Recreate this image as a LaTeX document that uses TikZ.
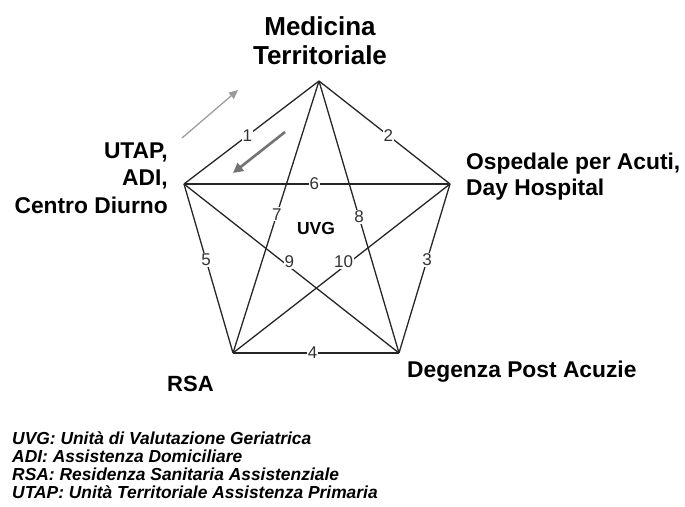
\documentclass[tikz,border=0pt]{standalone}
\usepackage{fontspec}
\setmainfont{Liberation Sans}
\usetikzlibrary{arrows.meta}
\begin{document}
\begin{tikzpicture}[x=1pt,y=-1pt,
  edge/.style={draw=black!85,line width=1.3pt},
  num/.style={fill=white,inner sep=1pt,font=\fontsize{17}{17}\selectfont,text=black!80},
  lbl/.style={inner sep=0pt,font=\fontsize{22.8}{27.5}\bfseries\selectfont},
  legend/.style={inner sep=0pt,align=left,font=\fontsize{17.4}{17.8}\bfseries\itshape\selectfont}]
\useasboundingbox (0,0) rectangle (685,506);
% vertices
\coordinate (M) at (319,81);
\coordinate (U) at (184,184);
\coordinate (O) at (450,184);
\coordinate (R) at (233,353);
\coordinate (D) at (399,353);
% edges
\draw[edge] (U) -- node[num,pos=0.47]{1} (M);
\draw[edge] (M) -- node[num,pos=0.53]{2} (O);
\draw[edge] (O) -- node[num,pos=0.45]{3} (D);
\draw[edge] (R) -- node[num,pos=0.48]{4} (D);
\draw[edge] (U) -- node[num,pos=0.45]{5} (R);
\draw[edge] (U) -- node[num,pos=0.49]{6} (O);
\draw[edge] (M) -- node[num,pos=0.49]{7} (R);
\draw[edge] (M) -- node[num,pos=0.50]{8} (D);
\draw[edge] (U) -- node[num,pos=0.49,yshift=5]{9} (D);
\draw[edge] (O) -- node[num,pos=0.49,yshift=5]{10} (R);
% arrows
\coordinate (a1s) at (182,138);
\coordinate (a1e) at (238,90);
\coordinate (a2s) at (285,132);
\coordinate (a2e) at (233,173);
\draw[black!40,line width=1.2pt,-{Triangle[length=9pt,width=8pt]}] (a1s) -- (a1e);
\draw[black!55,line width=2.6pt,-{Triangle[length=10pt,width=10pt]}] (a2s) -- (a2e);
% labels
\node[inner sep=0pt,anchor=base,align=center,font=\fontsize{26}{29}\bfseries\selectfont] (med) at (320,64) {Medicina\\Territoriale};
\node[lbl,anchor=base west,align=left,font=\fontsize{22.8}{26}\bfseries\selectfont] (osp) at (466,195) {Ospedale per Acuti,\\Day Hospital};
\node[lbl,anchor=base east,align=right] (utap) at (168,213) {UTAP,\\ADI,\\Centro Diurno};
\node[lbl,anchor=base west] (deg) at (407,377) {Degenza Post Acuzie};
\node[lbl,anchor=base west,font=\fontsize{22}{26}\bfseries\selectfont] (rsa) at (167,391) {RSA};
\node[inner sep=0pt,font=\fontsize{17.5}{17.5}\bfseries\selectfont] (uvg) at (316,228) {UVG};
\node[legend,anchor=base west] (leg) at (12,498) {UVG: Unità di Valutazione Geriatrica\\ADI: Assistenza Domiciliare\\RSA: Residenza Sanitaria Assistenziale\\UTAP: Unità Territoriale Assistenza Primaria};
\end{tikzpicture}
\end{document}
